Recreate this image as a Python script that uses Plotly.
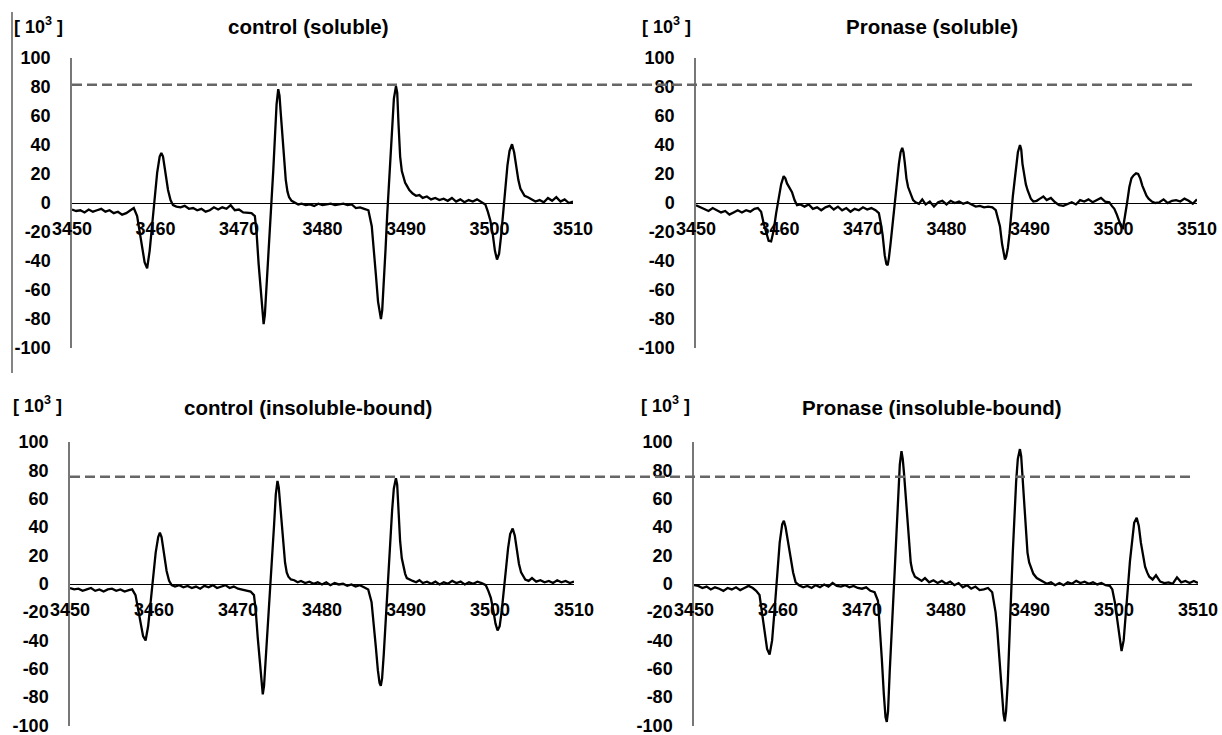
import plotly.graph_objects as go

# Magnetic field (G) sampling positions shared by all four spectra
field = [3450, 3450.5, 3451, 3451.5, 3452, 3452.5, 3453, 3453.5, 3454, 3454.5, 3455, 3455.5, 3456, 3456.5, 3457, 3457.4,
         3457.8, 3458.1, 3458.4, 3458.7, 3459.0, 3459.3, 3459.6, 3459.9, 3460.2, 3460.5, 3460.7, 3460.9, 3461.2, 3461.5, 3461.8, 3462.1,
         3462.5, 3463, 3463.5, 3464, 3464.5, 3465, 3465.5, 3466, 3466.5, 3467, 3467.5, 3468, 3468.5, 3469, 3469.5, 3470, 3470.5, 3471, 3471.5,
         3471.9, 3472.1, 3472.35, 3472.6, 3472.8, 3472.95, 3473.1, 3473.3, 3473.5, 3473.7, 3473.9, 3474.1, 3474.3, 3474.5, 3474.7, 3474.85, 3475.0, 3475.2, 3475.4, 3475.6, 3475.8, 3476.0, 3476.3,
         3476.7, 3477.1, 3477.5, 3478, 3478.5, 3479, 3479.5, 3480, 3480.5, 3481, 3481.5, 3482, 3482.5, 3483, 3483.5, 3484, 3484.5, 3485,
         3485.5, 3485.9, 3486.1, 3486.4, 3486.65, 3486.85, 3487.0, 3487.15, 3487.35, 3487.55, 3487.75, 3487.95, 3488.15, 3488.35, 3488.55, 3488.8, 3488.95, 3489.1, 3489.3, 3489.5, 3489.7, 3489.9, 3490.1, 3490.4,
         3490.8, 3491.2, 3491.6, 3492, 3492.5, 3493, 3493.5, 3494, 3494.5, 3495, 3495.5, 3496, 3496.5, 3497, 3497.5, 3498, 3498.5, 3499,
         3499.5, 3499.8, 3500.1, 3500.4, 3500.65, 3500.9, 3501.15, 3501.4, 3501.65, 3501.9, 3502.15, 3502.4, 3502.7, 3502.95, 3503.2, 3503.45, 3503.7, 3503.95, 3504.2,
         3504.6, 3505, 3505.5, 3506, 3506.5, 3507, 3507.5, 3508, 3508.5, 3509, 3509.5, 3510]

control_soluble = [-4.5, -5.5, -5, -6.5, -4.5, -6, -5, -4, -6, -5, -7, -6, -8, -7, -5, -3.5,
                   -9, -20, -32, -41, -45, -33, -15, 3, 21, 32, 34.5, 32, 20, 9, 2, -1.5,
                   -2.5, -3, -2, -4, -3.5, -5, -4, -6, -5, -3, -4.5, -3, -4, -1.5, -5, -4.5, -6.5, -7, -7,
                   -9, -20, -42, -62, -78, -83.5, -77, -58, -37, -18, 0, 22, 45, 68, 78.5, 74, 62, 45, 28, 16, 8, 4, 1.5,
                   0.5, -1, -0.5, -1.5, -1, -2, -0.5, -1.5, -1, -0.5, -1.5, -1, -0.5, -1.5, -1, -3.5, -3, -4,
                   -5, -16, -28, -50, -68, -77, -80, -74, -55, -32, -8, 14, 36, 56, 72, 80.5, 76, 55, 32, 22, 17, 14, 12, 9,
                   6.5, 5, 5.5, 3.5, 4.5, 2.5, 3.5, 2, 3, 1.5, 3.5, 1, 2.5, 0.5, 2, 1, 2.5, 1,
                   -1, -6, -12, -22, -33, -39, -35, -22, -4, 12, 26, 36, 40.5, 35, 25, 16, 10, 7, 5,
                   4, 2.5, 1, 2, 0.5, 3.5, 1.5, 4, 1, 2.5, 0, 1]

pronase_soluble = [-1.5, -3, -4.5, -5.5, -3.5, -5, -6.5, -5.5, -8, -6.5, -5, -6.5, -5, -6, -4, -3.5,
                   -6, -14, -21, -26, -26.5, -19, -7, 3, 13, 18.5, 17, 13.5, 10, 7.5, 2, -1.5,
                   -1, -2.5, -1, -4, -3, -5, -3, -2, -4.5, -2.5, -5, -3.5, -6, -4, -5, -3, -4.5, -3.5, -5,
                   -7, -13, -22, -36, -42, -43, -38, -28, -18, -5, 4, 16, 27, 35, 38, 35, 28, 17, 11, 7.5, 4, 2, 0.5,
                   -0.5, 2.5, -1, 1, -2.5, 0.5, 1.5, -1, 1.5, 0, 1, -0.5, 0.5, -1, -2.5, -2, -3, -2.5,
                   -3, -5, -9, -16, -28, -36, -39, -37, -31, -21, -5, 5, 15, 26, 35, 40, 37, 27, 18, 13, 9, 5.5, 3, 1,
                   1.5, 3, 4.5, 2, 3.5, 0.5, -1.5, -2, -0.5, 0.5, -1, 2, 1, 2.5, 0.5, 2, 3.5, 1,
                   0.5, -2, -4, -8, -12, -16, -17, -9, 1, 11, 17, 19, 20.5, 20, 17, 12, 8, 5, 3,
                   1, 0, 0.5, 2.5, 0, 1.5, 2, 1, 3, 1.5, -0.5, 2.5]

control_insoluble = [-3, -4, -3.5, -5, -4, -3, -5, -4, -5.5, -4, -3.5, -5, -4, -5.5, -4.5, -4,
                     -8, -17, -28, -37, -40, -30, -13, 4, 22, 33, 36, 33, 21, 9, 2, -1,
                     -2, -1, -2.5, -1.5, -3, -2, -3.5, -1.5, -2.5, -1, -3, -2, -1, -3, -2, -3.5, -4, -5, -5.5,
                     -8, -18, -38, -57, -72, -78, -72, -54, -34, -16, 0, 20, 42, 63, 72.5, 68, 57, 41, 26, 15, 8, 5, 3,
                     2.5, 1, 2, 0.5, 1.5, 0, 1, -0.5, 1, -1, 0.5, -0.5, 0, -1.5, -0.5, -2, -1, -2.5,
                     -4, -13, -24, -44, -61, -70, -72, -67, -50, -29, -7, 13, 33, 52, 67, 74.5, 70, 52, 30, 18, 11, 7, 4, 3,
                     2, 1, 2.5, 0.5, 1.5, 0, 1.5, -0.5, 1, 0, 2, 0.5, 1.5, -0.5, 1, 0, 1.5, 0.5,
                     -1, -5, -10, -19, -28, -33, -30, -19, -3, 12, 25, 35, 39, 34, 24, 14, 8, 5, 3,
                     2, 4, 1.5, 2.5, 1, 2, 0.5, 2.5, 1, 2, 0.5, 1.5]

pronase_insoluble = [-1, -1.5, -3, -2, -4, -2.5, -3.5, -5, -3, -4, -2.5, -4.5, -3, -1.5, -3, -5,
                     -8, -22, -36, -46, -50, -40, -18, 6, 29, 42, 44.5, 40, 29, 18, 8, 1,
                     -1, -2.5, -1.5, -3, -1, -2.5, -0.5, -2, 0.5, -1.5, -2, -1, -2.5, -1.5, -3, -3.5, -2.5, -5, -6,
                     -12, -28, -52, -78, -94, -97.5, -90, -62, -34, -10, 10, 35, 60, 84, 93.5, 88, 78, 62, 45, 27, 15, 9, 5,
                     3.5, 2, 4, 1, 2.5, 0.5, 2, 0, 1.5, -1, 0.5, -2.5, -1, -3.5, -2, -4.5, -4, -3,
                     -6, -20, -32, -55, -78, -92, -97, -90, -70, -44, -8, 22, 50, 72, 88, 95, 90, 76, 57, 38, 22, 15, 12, 7,
                     4, 2.5, 1.5, 0, 1, -1, 0.5, -1, 1, 0, 2, 0.5, 1.5, 0, 1, -0.5, 0.5, -1,
                     -1.5, -4, -13, -27, -40, -47.5, -40, -24, -3, 16, 32, 43, 46.5, 41, 29, 19, 12, 8, 5,
                     3, 6, 1.5, 0.5, 1, 0, 4.5, 1, 2, 0.5, 2, 0.5]

panel_titles = ["control (soluble)", "Pronase (soluble)",
                "control (insoluble-bound)", "Pronase (insoluble-bound)"]
x_ticks = [3450, 3460, 3470, 3480, 3490, 3500, 3510]
y_ticks = [-100, -80, -60, -40, -20, 0, 20, 40, 60, 80, 100]
ref_levels = [81.5, 75.5]   # dashed reference lines (top row, bottom row)

W, H = 1222, 735
def px(v): return v / W
def py(v): return 1 - v / H

# panel geometry in pixels: (x_left, x_right, y_top(100), y_bottom(-100))
panels = [(72, 573, 58, 348), (696, 1197, 58, 348),
          (70, 574, 442, 725.5), (694, 1198, 442, 725.5)]
series = [control_soluble, pronase_soluble, control_insoluble, pronase_insoluble]

font_fam = "Liberation Sans, Arial, sans-serif"
fig = go.Figure()
layout = {}
for i, ((xl, xr, yt, yb), ys) in enumerate(zip(panels, series)):
    n = "" if i == 0 else str(i + 1)
    fig.add_trace(go.Scatter(x=field, y=ys, mode="lines",
                             line=dict(color="black", width=2.3),
                             xaxis="x" + n, yaxis="y" + n, showlegend=False,
                             hoverinfo="skip"))
    ydom = [py(yb), py(yt)]
    layout["xaxis" + n] = dict(domain=[px(xl), px(xr)], range=[3450, 3510],
                               anchor="free", position=(ydom[0] + ydom[1]) / 2,
                               automargin=False, ticklabeloverflow="allow",
                               showline=True, linecolor="black", linewidth=1.3,
                               showgrid=False, zeroline=False, ticks="",
                               tickvals=x_ticks, ticktext=[str(t) for t in x_ticks],
                               ticklabelstandoff=9,
                               tickfont=dict(family=font_fam, size=18, color="black", weight="bold"))
    layout["yaxis" + n] = dict(domain=ydom, range=[-100, 100], anchor="x" + n,
                               automargin=False, ticklabeloverflow="allow",
                               showline=True, linecolor="#777777", linewidth=1.5,
                               showgrid=False, zeroline=False, ticks="",
                               tickvals=y_ticks, ticktext=[str(t) for t in y_ticks],
                               ticklabelstandoff=16,
                               tickfont=dict(family=font_fam, size=18, color="black", weight="bold"))

fig.update_layout(**layout)

annotations = []
title_pos = [(308, 27), (932, 27), (308, 407), (932, 407)]
unit_pos = [(12, 25), (640, 25), (11, 404), (639, 404)]
for t, (tx, ty), (ux, uy) in zip(panel_titles, title_pos, unit_pos):
    annotations.append(dict(text=f"<b>{t}</b>", x=px(tx), y=py(ty), xref="paper", yref="paper",
                            xanchor="center", yanchor="middle", showarrow=False,
                            font=dict(family=font_fam, size=20.5, color="black")))
    annotations.append(dict(text="<b>[ 10<sup>3</sup> ]</b>", x=px(ux), y=py(uy), xref="paper", yref="paper",
                            xanchor="left", yanchor="middle", showarrow=False,
                            font=dict(family=font_fam, size=18, color="black")))

shapes = [
    dict(type="line", xref="paper", yref="y", x0=px(72), x1=px(1195), y0=ref_levels[0], y1=ref_levels[0],
         line=dict(color="#666666", width=2.5, dash="10px,5px")),
    dict(type="line", xref="paper", yref="y3", x0=px(70), x1=px(1195), y0=ref_levels[1], y1=ref_levels[1],
         line=dict(color="#666666", width=2.5, dash="10px,5px")),
    dict(type="line", xref="paper", yref="paper", x0=px(12), x1=px(12), y0=py(373), y1=py(12),
         line=dict(color="#333333", width=1.2)),
]

fig.update_layout(width=W, height=H, margin=dict(l=0, r=0, t=0, b=0),
                  paper_bgcolor="white", plot_bgcolor="white",
                  annotations=annotations, shapes=shapes)

fig.write_html("out.html", config={"displayModeBar": False},
               post_script="document.body.style.margin='0';document.body.style.padding='0';"
                           "document.body.style.overflow='hidden';")
